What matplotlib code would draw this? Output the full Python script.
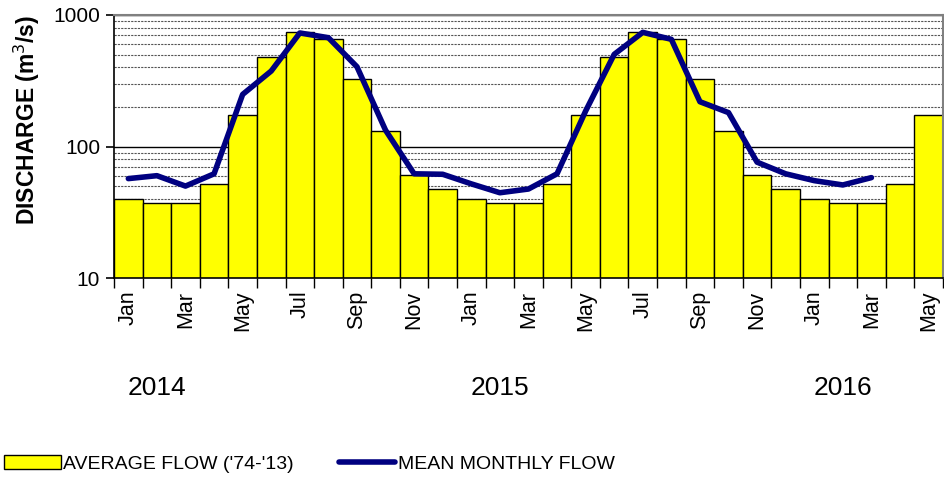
import numpy as np
import matplotlib.pyplot as plt
from matplotlib.ticker import FixedLocator, NullFormatter
from matplotlib.transforms import blended_transform_factory

plt.rcParams["font.family"] = ["Liberation Sans", "DejaVu Sans"]

# ---------- Datos ----------
months = ["Jan", "Feb", "Mar", "Apr", "May", "Jun",
          "Jul", "Aug", "Sep", "Oct", "Nov", "Dec"] * 2 + ["Jan", "Feb", "Mar", "Apr", "May"]
years = ["2014", "2015", "2016"]
year_pos = [1, 13, 25]  # Feb de cada año

average_flow = [40, 37, 37, 51.5, 173, 482, 743, 657, 326, 131, 60.5, 47.5,
                40, 37, 37, 51.5, 173, 482, 743, 657, 326, 131, 60.5, 47.5,
                40, 37, 37, 51.5, 173]
mean_monthly = [57, 60, 50, 62, 249, 375, 730, 672, 404, 133, 62, 61.5,
                52, 44.5, 47.5, 62, 186, 502, 738, 653, 219, 181, 76, 62,
                55, 51, 58]

# ---------- Gráfica ----------
fig = plt.figure(figsize=(9.44, 4.79), dpi=100)
ax = fig.add_axes([0.1208, 0.4196, 0.878, 0.5491])

x = np.arange(len(average_flow))
bars = ax.bar(x, average_flow, width=1.0, color="#ffff00", edgecolor="black",
              linewidth=1.0, zorder=2, label="AVERAGE FLOW ('74-'13)")
line, = ax.plot(np.arange(len(mean_monthly)), mean_monthly, color="#000080",
                linewidth=4, solid_joinstyle="round", solid_capstyle="round",
                zorder=3, label="MEAN MONTHLY FLOW")

ax.set_yscale("log")
ax.set_ylim(10, 1000)
ax.set_xlim(-0.5, len(average_flow) - 0.5)

# eje y
ax.yaxis.set_major_locator(FixedLocator([10, 100, 1000]))
ax.set_yticklabels(["10", "100", "1000"], fontsize=15)
ax.yaxis.set_minor_formatter(NullFormatter())
ax.tick_params(axis="y", which="major", direction="out", length=6, width=1.2, pad=4)
ax.tick_params(axis="y", which="minor", length=0)
ax.grid(axis="y", which="major", color="black", linestyle="-", linewidth=1.0, zorder=0)
ax.grid(axis="y", which="minor", color="#555555", linestyle=(0, (2, 1)), linewidth=0.8, zorder=0)
ax.set_axisbelow(True)
ax.set_ylabel("DISCHARGE (m$^{3}$/s)", fontsize=16.5, fontweight="bold")
ax.yaxis.set_label_coords(-0.087, 0.60)

# eje x: marcas en los límites de las barras, etiquetas cada dos meses
ax.set_xticks(np.arange(len(average_flow) + 1) - 0.5)
ax.set_xticklabels([])
ax.set_xticks(x[::2], minor=True)
ax.set_xticklabels(months[::2], minor=True, rotation=90, fontsize=15.5)
ax.tick_params(axis="x", which="major", direction="out", length=7, width=1.0)
ax.tick_params(axis="x", which="minor", length=0, pad=9)

for side in ["top", "right"]:
    ax.spines[side].set_color("#808080")
    ax.spines[side].set_linewidth(1.5)
for side in ["left", "bottom"]:
    ax.spines[side].set_color("black")
    ax.spines[side].set_linewidth(1.2)

trans = blended_transform_factory(ax.transData, ax.transAxes)
for yr, pos in zip(years, year_pos):
    ax.text(pos, -0.42, yr, transform=trans, ha="center", va="center", fontsize=19)

fig.legend([bars, line], [bars.get_label(), line.get_label()],
           loc="lower left", bbox_to_anchor=(-0.008, -0.011), ncol=2, frameon=False,
           fontsize=14, handlelength=2.9, handleheight=0.7, columnspacing=2.3,
           handletextpad=0.15, borderaxespad=0.2)

fig.savefig("out.png", dpi=100)
plt.close(fig)
